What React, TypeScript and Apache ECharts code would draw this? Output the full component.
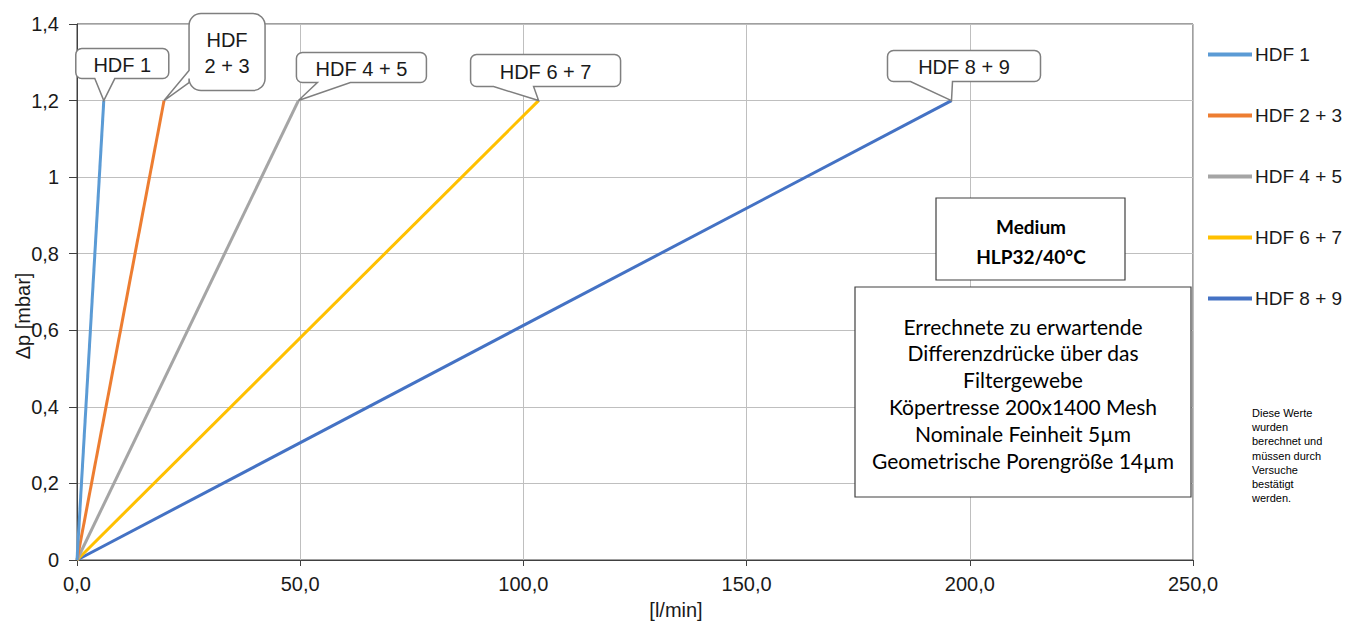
import React, { useEffect, useRef } from 'react';
import * as echarts from 'echarts';

// ---- data ----
const seriesNames = ['HDF 1', 'HDF 2 + 3', 'HDF 4 + 5', 'HDF 6 + 7', 'HDF 8 + 9'];
const calloutTexts = ['HDF 1', 'HDF\n2 + 3', 'HDF 4 + 5', 'HDF 6 + 7', 'HDF 8 + 9'];
const flowAtStart = [0, 0, 0, 0, 0];
const flowAtMax = [6.0, 19.5, 49.6, 103.4, 195.9];
const pressureStart = 0;
const pressureEnd = 1.2;
const xTicks = [0, 50, 100, 150, 200, 250];
const yTicks = [0, 0.2, 0.4, 0.6, 0.8, 1, 1.2, 1.4];
const mediumLines = ['Medium', 'HLP32/40°C'];
const infoLines = [
  'Errechnete zu erwartende',
  'Differenzdrücke über das',
  'Filtergewebe',
  'Köpertresse 200x1400 Mesh',
  'Nominale Feinheit 5µm',
  'Geometrische Porengröße 14µm',
];
const noteLines = ['Diese Werte', 'wurden', 'berechnet und', 'müssen durch', 'Versuche', 'bestätigt', 'werden.'];

// ---- styles ----
const colors = ['#5B9BD5', '#ED7D31', '#A5A5A5', '#FFC000', '#4472C4'];
const FONT = '"Liberation Sans", Arial, sans-serif';
const BOXFONT = 'Lato, "Open Sans", sans-serif';

// callout layout relative to the data point tip
const calloutLayout = [
  { dx: -28, dy: -52, w: 93, h: 30, r: 6, side: 'bottom', p1: -9, p2: 11 },
  { dx: 25, dy: -87, w: 76, h: 77, r: 12, side: 'left', p1: -30, p2: -18 },
  { dx: -2, dy: -48, w: 130, h: 30, r: 6, side: 'bottom', p1: 19, p2: 52 },
  { dx: -68, dy: -46, w: 150, h: 32, r: 6, side: 'bottom', p1: -45, p2: -5 },
  { dx: -64, dy: -50, w: 153, h: 31, r: 6, side: 'bottom', p1: -41, p2: 1 },
];

const Callout = (echarts.graphic as any).extendShape({
  type: 'callout',
  shape: { x: 0, y: 0, w: 0, h: 0, r: 0, side: 0, p1: 0, p2: 0, tx: 0, ty: 0 },
  buildPath(ctx: any, s: any) {
    const { x, y, w, h, r, tx, ty, p1, p2, side } = s;
    ctx.moveTo(x + r, y);
    ctx.lineTo(x + w - r, y);
    ctx.arc(x + w - r, y + r, r, -Math.PI / 2, 0);
    ctx.lineTo(x + w, y + h - r);
    ctx.arc(x + w - r, y + h - r, r, 0, Math.PI / 2);
    if (side === 1) {
      ctx.lineTo(p2, y + h);
      ctx.lineTo(tx, ty);
      ctx.lineTo(p1, y + h);
    }
    ctx.lineTo(x + r, y + h);
    ctx.arc(x + r, y + h - r, r, Math.PI / 2, Math.PI);
    if (side === 2) {
      ctx.lineTo(x, p2);
      ctx.lineTo(tx, ty);
      ctx.lineTo(x, p1);
    }
    ctx.lineTo(x, y + r);
    ctx.arc(x + r, y + r, r, Math.PI, Math.PI * 1.5);
    ctx.closePath();
  },
});
(echarts.graphic as any).registerShape('callout', Callout);

const fmtY = (v: number) => String(Number(v.toFixed(1))).replace('.', ',');
const fmtX = (v: number) => v.toFixed(1).replace('.', ',');

export default function App() {
  const ref = useRef<HTMLDivElement>(null);
  useEffect(() => {
    if (!ref.current) return;
    const chart = echarts.init(ref.current, null, { renderer: 'svg' });
    const option: any = {
      animation: false,
      backgroundColor: '#ffffff',
      grid: {
        left: 77,
        top: 24,
        right: 163,
        bottom: 64,
        show: true,
        borderColor: '#404040',
        borderWidth: 1,
        outerBoundsMode: 'none',
        containLabel: false,
      },
      legend: {
        orient: 'vertical',
        left: 1203,
        top: 40,
        icon: 'rect',
        itemWidth: 44,
        itemHeight: 4,
        itemGap: 42,
        data: seriesNames,
        textStyle: { fontFamily: FONT, fontSize: 19, color: '#1a1a1a', padding: [0, 0, 0, -2] },
      },
      xAxis: {
        type: 'value',
        min: xTicks[0],
        max: xTicks[xTicks.length - 1],
        interval: 50,
        name: '[l/min]',
        nameLocation: 'middle',
        nameGap: 40,
        nameMoveOverlap: false,
        nameTextStyle: { fontFamily: FONT, fontSize: 20, color: '#1a1a1a', padding: [0, 0, 0, 82] },
        axisLine: { lineStyle: { color: '#404040', width: 1 } },
        axisTick: { show: true, length: 6, lineStyle: { color: '#404040' } },
        axisLabel: { formatter: fmtX, fontFamily: FONT, fontSize: 20, color: '#1a1a1a', margin: 14 },
        splitLine: { show: true, lineStyle: { color: '#bfbfbf', width: 1 } },
      },
      yAxis: {
        type: 'value',
        min: yTicks[0],
        max: yTicks[yTicks.length - 1],
        interval: 0.2,
        name: 'Δp [mbar]',
        nameLocation: 'middle',
        nameGap: 44,
        nameMoveOverlap: false,
        nameTextStyle: { fontFamily: FONT, fontSize: 20, color: '#1a1a1a', padding: [0, 48, 0, 0] },
        axisLine: { show: true, lineStyle: { color: '#404040', width: 1 } },
        axisTick: { show: true, length: 8, lineStyle: { color: '#404040' } },
        axisLabel: { formatter: fmtY, fontFamily: FONT, fontSize: 20, color: '#1a1a1a', margin: 18 },
        splitLine: { show: true, lineStyle: { color: '#bfbfbf', width: 1 } },
      },
      series: seriesNames.map((name, i) => ({
        name,
        type: 'line',
        symbol: 'none',
        data: [
          [flowAtStart[i], pressureStart],
          [flowAtMax[i], pressureEnd],
        ],
        lineStyle: { color: colors[i], width: 3 },
        itemStyle: { color: colors[i] },
        z: 2 + (seriesNames.length - i),
      })),
    };
    chart.setOption(option);

    const graphics: any[] = [];
    flowAtMax.forEach((fx, i) => {
      const [tx, ty] = chart.convertToPixel({ gridIndex: 0 }, [fx, pressureEnd]) as number[];
      const L = calloutLayout[i];
      const bx = tx + L.dx;
      const by = ty + L.dy;
      graphics.push({
        type: 'callout',
        z: 100,
        shape: {
          x: bx,
          y: by,
          w: L.w,
          h: L.h,
          r: L.r,
          side: L.side === 'bottom' ? 1 : 2,
          p1: L.side === 'bottom' ? tx + L.p1 : ty + L.p1,
          p2: L.side === 'bottom' ? tx + L.p2 : ty + L.p2,
          tx,
          ty,
        },
        style: { fill: '#ffffff', stroke: '#7f7f7f', lineWidth: 1.5 },
      });
      graphics.push({
        type: 'text',
        z: 101,
        style: {
          x: bx + L.w / 2,
          y: by + L.h / 2 + 1,
          text: calloutTexts[i],
          align: 'center',
          verticalAlign: 'middle',
          fontFamily: FONT,
          fontSize: 20,
          lineHeight: 26,
          fill: '#1a1a1a',
        },
      });
    });

    graphics.push({
      type: 'rect',
      z: 100,
      shape: { x: 936, y: 198, width: 189, height: 82 },
      style: { fill: '#ffffff', stroke: '#404040', lineWidth: 1.2 },
    });
    mediumLines.forEach((t, k) => {
      graphics.push({
        type: 'text',
        z: 101,
        style: {
          x: 1031,
          y: 226 + k * 30,
          text: t,
          align: 'center',
          verticalAlign: 'middle',
          fontFamily: BOXFONT,
          fontWeight: 'bold',
          fontSize: 19,
          fill: '#000000',
        },
      });
    });
    graphics.push({
      type: 'rect',
      z: 100,
      shape: { x: 855, y: 287, width: 336, height: 210 },
      style: { fill: '#ffffff', stroke: '#404040', lineWidth: 1.2 },
    });
    infoLines.forEach((t, k) => {
      graphics.push({
        type: 'text',
        z: 101,
        style: {
          x: 1023,
          y: 326 + k * 26.8,
          text: t,
          align: 'center',
          verticalAlign: 'middle',
          fontFamily: BOXFONT,
          fontSize: 21,
          fill: '#000000',
        },
      });
    });
    noteLines.forEach((t, k) => {
      graphics.push({
        type: 'text',
        z: 101,
        style: {
          x: 1252,
          y: 413 + k * 14.2,
          text: t,
          align: 'left',
          verticalAlign: 'middle',
          fontFamily: FONT,
          fontSize: 11,
          fill: '#000000',
        },
      });
    });
    chart.setOption({ graphic: graphics });
    return () => chart.dispose();
  }, []);
  return (
    <div
      ref={ref}
      style={{ position: 'fixed', left: 0, top: 0, width: 1356, height: 624, background: '#fff' }}
    />
  );
}
